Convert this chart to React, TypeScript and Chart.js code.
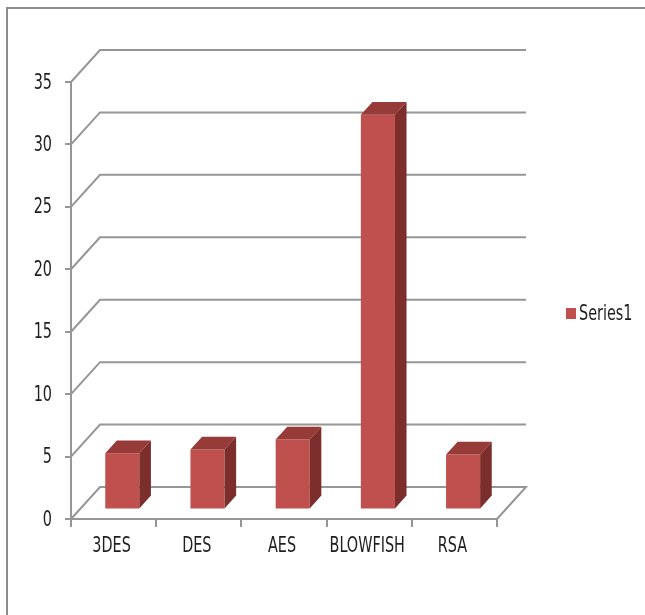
import React, { useEffect, useRef } from "react";
import { Chart, registerables } from "chart.js";

Chart.register(...registerables);

// ---- data ----
const categories = ["3DES", "DES", "AES", "BLOWFISH", "RSA"];
const seriesLabel = "Series1";
const seriesValues = [4.5, 4.8, 5.6, 31.6, 4.4];
const yTickValues = [0, 5, 10, 15, 20, 25, 30, 35];
const yMin = 0;
const yMax = 35;
const yStep = 5;

// ---- styling ----
const FONT = '"Liberation Sans Narrow", "DejaVu Sans Condensed", sans-serif';
const FONT_SIZE = 16;
const STRETCH = 1.35;
const TEXT = "#1e1e1e";
const GRID = "#969696";
const DEPTH_X = 29;
const DEPTH_Y = 32;
const BAR_FRONT = 0.3;
const BAR_DEPTH = 0.4;
const FRONT = "#C0504D";
const TOP = "#973B38";
const SIDE = "#7B2E2C";

function tallText(ctx: any, text: string, x: number, y: number, align: string) {
  ctx.save();
  ctx.translate(x, y);
  ctx.scale(1, STRETCH);
  ctx.font = `${FONT_SIZE}px ${FONT}`;
  ctx.fillStyle = TEXT;
  ctx.textAlign = align;
  ctx.textBaseline = "middle";
  ctx.fillText(text, 0, 0);
  ctx.restore();
}

const depthPlugin = {
  id: "depth3d",
  beforeDraw(chart: any) {
    const ctx = chart.ctx;
    ctx.save();
    ctx.fillStyle = "#ffffff";
    ctx.fillRect(0, 0, chart.width, chart.height);
    // outer frame
    ctx.strokeStyle = "#8c8c8c";
    ctx.lineWidth = 2;
    ctx.beginPath();
    ctx.moveTo(7, chart.height);
    ctx.lineTo(7, 8);
    ctx.lineTo(chart.width, 8);
    ctx.stroke();
    // back wall gridlines + floor
    const { left, right } = chart.chartArea;
    const ys = chart.scales.y;
    ctx.strokeStyle = GRID;
    ctx.lineWidth = 2;
    ctx.lineJoin = "miter";
    for (const v of yTickValues) {
      const py = ys.getPixelForValue(v);
      ctx.beginPath();
      ctx.moveTo(left, py);
      ctx.lineTo(left + DEPTH_X, py - DEPTH_Y);
      ctx.lineTo(right + DEPTH_X, py - DEPTH_Y);
      if (v === yMin) ctx.lineTo(right, py);
      ctx.stroke();
    }
    ctx.restore();
  },
  beforeDatasetDraw(chart: any) {
    const ctx = chart.ctx;
    ctx.save();
    ctx.translate(DEPTH_X * BAR_FRONT, -DEPTH_Y * BAR_FRONT);
  },
  afterDatasetDraw(chart: any, args: any) {
    const ctx = chart.ctx;
    ctx.restore();
    const ox = DEPTH_X * BAR_FRONT;
    const oy = DEPTH_Y * BAR_FRONT;
    const dX = DEPTH_X * BAR_DEPTH;
    const dY = DEPTH_Y * BAR_DEPTH;
    ctx.save();
    for (const el of args.meta.data) {
      const { x, y, base, width } = el.getProps(["x", "y", "base", "width"], true);
      const l = x - width / 2 + ox;
      const r = x + width / 2 + ox;
      const t = y - oy;
      const b = base - oy;
      ctx.fillStyle = TOP;
      ctx.beginPath();
      ctx.moveTo(l, t);
      ctx.lineTo(l + dX, t - dY);
      ctx.lineTo(r + dX, t - dY);
      ctx.lineTo(r, t);
      ctx.closePath();
      ctx.fill();
      ctx.fillStyle = SIDE;
      ctx.beginPath();
      ctx.moveTo(r, t);
      ctx.lineTo(r + dX, t - dY);
      ctx.lineTo(r + dX, b - dY);
      ctx.lineTo(r, b);
      ctx.closePath();
      ctx.fill();
    }
    ctx.restore();
  },
  afterDraw(chart: any) {
    const ctx = chart.ctx;
    const ys = chart.scales.y;
    const xs = chart.scales.x;
    // y tick labels
    for (const t of ys.ticks) {
      tallText(ctx, String(t.label), ys.right - 19, ys.getPixelForValue(t.value) + 1, "right");
    }
    // x category labels
    categories.forEach((c, i) => {
      tallText(ctx, xs.getLabelForValue(i) || c, xs.getPixelForValue(i) - 2, 546, "center");
    });
    // legend
    const ds = chart.data.datasets[0];
    ctx.save();
    ctx.fillStyle = ds.backgroundColor;
    ctx.fillRect(566, 308, 10, 11);
    ctx.restore();
    tallText(ctx, ds.label, 579, 314, "left");
  },
};

export default function App() {
  const ref = useRef<HTMLCanvasElement | null>(null);
  useEffect(() => {
    if (!ref.current) return;
    const chart = new Chart(ref.current, {
      type: "bar",
      data: {
        labels: categories,
        datasets: [
          {
            label: seriesLabel,
            data: seriesValues,
            backgroundColor: FRONT,
            borderWidth: 0,
            barPercentage: 0.4,
            categoryPercentage: 1.0,
            clip: false,
          } as any,
        ],
      },
      options: {
        responsive: false,
        animation: false,
        events: [],
        layout: { padding: { left: 0, top: 82, right: 148, bottom: 0 } },
        plugins: { legend: { display: false }, tooltip: { enabled: false } },
        scales: {
          x: {
            offset: true,
            grid: {
              drawOnChartArea: false,
              drawTicks: true,
              tickLength: 8,
              color: GRID,
              lineWidth: 2,
              offset: true,
            },
            border: { display: true, color: GRID, width: 2 },
            ticks: { display: false, autoSkip: false },
            afterFit: (s: any) => {
              s.height = 96;
            },
          },
          y: {
            min: yMin,
            max: yMax,
            grid: { drawOnChartArea: false, drawTicks: true, tickLength: 6, color: GRID, lineWidth: 2 },
            border: { display: true, color: GRID, width: 2 },
            ticks: { display: false, stepSize: yStep },
            afterFit: (s: any) => {
              s.width = 71;
            },
          },
        },
      } as any,
      plugins: [depthPlugin],
    });
    return () => chart.destroy();
  }, []);
  return (
    <div style={{ position: "fixed", left: 0, top: 0, width: 645, height: 615 }}>
      <canvas ref={ref} width={645} height={615} style={{ display: "block" }} />
    </div>
  );
}
